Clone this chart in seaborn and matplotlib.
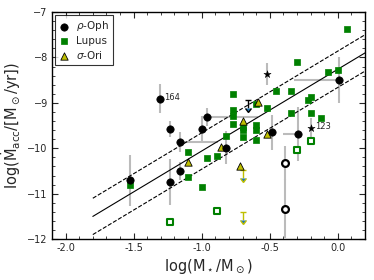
import numpy as np
import matplotlib
matplotlib.use('Agg')
import matplotlib.pyplot as plt
import seaborn as sns
from matplotlib.ticker import MultipleLocator, FormatStrFormatter

# rho-Oph, accreting (filled circles)
oph_logm = [-1.53, -1.31, -1.23, -1.16, -1.00, -0.96, -0.82, -1.16, -1.23, -0.48, -0.29, 0.01]
oph_logmacc = [-10.70, -8.91, -9.57, -9.86, -9.58, -9.31, -9.99, -10.50, -10.74, -9.65, -9.69, -8.50]
oph_yerr = [0.56, 0.32, 0.18, 0.22, 0.28, 0.20, 0.36, 0.20, 0.50, 0.39, 0.60, 0.51]
oph_xerr_lo = [0, 0, 0, 0, 0, 0.04, 0, 0, 0, 0, 0.11, 0.33]
oph_xerr_hi = [0, 0, 0, 0.28, 0, 0.37, 0, 0, 0, 0, 0, 0]

# rho-Oph, open circles
oph_open_logm = [-0.39, -0.39]
oph_open_logmacc = [-10.33, -11.33]
oph_open_yerr = [0.37, 0.65]

# stars
star_logm = [-0.52, -0.20]
star_logmacc = [-8.37, -9.56]
star_yerr = [0.24, 0.22]
star_names = ['', '123']

# upper limits
oph_ul_logm = [-0.66]
oph_ul_logmacc = [-8.94]
ori_ul_logm = [-0.70, -0.70]
ori_ul_logmacc = [-10.48, -11.40]

# Lupus
lup_logm = [-1.53, -1.10, -1.10, -1.00, -0.96, -0.89, -0.82, -0.77, -0.77, -0.77,
            -0.77, -0.70, -0.70, -0.70, -0.60, -0.60, -0.60, -0.60, -0.52, -0.455,
            -0.345, -0.345, -0.30, -0.22, -0.20, -0.20, -0.12, -0.07, 0.005, 0.07]
lup_logmacc = [-10.80, -10.08, -10.63, -10.86, -10.22, -10.17, -9.72, -8.81, -9.16, -9.29,
               -9.47, -9.53, -9.60, -9.75, -9.03, -9.48, -9.60, -9.82, -9.11, -8.73,
               -8.73, -9.23, -8.09, -8.94, -8.87, -9.23, -9.33, -8.32, -8.28, -7.37]
lup_open_logm = [-1.23, -0.89, -0.30, -0.20]
lup_open_logmacc = [-11.63, -11.38, -10.04, -9.84]

# sigma-Ori
ori_logm = [-1.10, -0.855, -0.70, -0.59, -0.52, -0.72]
ori_logmacc = [-10.30, -9.98, -9.41, -8.98, -9.69, -10.40]

# fit
fit_slope = 1.8
fit_icpt = -8.26
fit_scatter = 0.4
fit_x = np.array([-1.8, 0.2])

sns.set_style("ticks")
plt.rcParams['font.family'] = 'DejaVu Sans'
plt.rcParams['xtick.direction'] = 'in'
plt.rcParams['ytick.direction'] = 'in'
plt.rcParams['xtick.top'] = True
plt.rcParams['ytick.right'] = True

fig, ax = plt.subplots(figsize=(3.74, 2.8), dpi=100)
fig.subplots_adjust(left=0.139, right=0.976, bottom=0.146, top=0.957)

ebar = dict(fmt='none', ecolor='#bbbbbb', elinewidth=1.5, capsize=0, zorder=1)
ax.errorbar(oph_logm, oph_logmacc, yerr=oph_yerr, xerr=[oph_xerr_lo, oph_xerr_hi], **ebar)
ax.errorbar(oph_open_logm, oph_open_logmacc, yerr=oph_open_yerr, **ebar)
ax.errorbar(star_logm, star_logmacc, yerr=star_yerr, **ebar)

# upper limits
ax.errorbar(oph_ul_logm, oph_ul_logmacc, yerr=0.17, uplims=True, fmt='none',
            ecolor='k', elinewidth=1, capsize=2, zorder=2)
ax.errorbar(ori_ul_logm, ori_ul_logmacc, yerr=0.17, uplims=True, fmt='none',
            ecolor='#bfbf00', elinewidth=1, capsize=2, zorder=2)

# fit lines
fit_y = fit_slope * fit_x + fit_icpt
sns.lineplot(x=fit_x, y=fit_y, color='k', lw=0.8, ax=ax, zorder=2)
sns.lineplot(x=fit_x, y=fit_y + fit_scatter, color='k', lw=0.8, ls='--', ax=ax, zorder=2)
sns.lineplot(x=fit_x, y=fit_y - fit_scatter, color='k', lw=0.8, ls='--', ax=ax, zorder=2)

sns.scatterplot(x=oph_logm, y=oph_logmacc, marker='o', color='k', s=28, edgecolor='k',
                linewidth=0.5, label=r'$\rho$-Oph', zorder=4, ax=ax, legend=False)
sns.scatterplot(x=lup_logm, y=lup_logmacc, marker='s', color='green', s=13, edgecolor='green',
                linewidth=0.5, label='Lupus', zorder=3, ax=ax, legend=False)
sns.scatterplot(x=ori_logm, y=ori_logmacc, marker='^', color='#bfbf00', s=28, edgecolor='k',
                linewidth=0.6, label=r'$\sigma$-Ori', zorder=3, ax=ax, legend=False)
sns.scatterplot(x=oph_open_logm, y=oph_open_logmacc, marker='o', color='white', s=24,
                edgecolor='k', linewidth=1.6, zorder=4, ax=ax, legend=False)
sns.scatterplot(x=lup_open_logm, y=lup_open_logmacc, marker='s', color='white', s=18,
                edgecolor='green', linewidth=1.5, zorder=3, ax=ax, legend=False)
sns.scatterplot(x=star_logm, y=star_logmacc, marker='*', color='k', s=30, edgecolor='k',
                linewidth=0.3, zorder=4, ax=ax, legend=False)

ax.annotate('164', (oph_logm[1], oph_logmacc[1]), xytext=(3, 1), textcoords='offset points',
            fontsize=6, va='center')
ax.annotate(star_names[1], (star_logm[1], star_logmacc[1]), xytext=(3, 1), textcoords='offset points',
            fontsize=6, va='center')

ax.set_xlim(-2.1, 0.2)
ax.set_ylim(-12, -7)
ax.xaxis.set_major_locator(MultipleLocator(0.5))
ax.xaxis.set_minor_locator(MultipleLocator(0.1))
ax.yaxis.set_major_locator(MultipleLocator(1))
ax.yaxis.set_minor_locator(MultipleLocator(0.2))
ax.xaxis.set_major_formatter(FormatStrFormatter('%.1f'))
ax.tick_params(which='major', length=4, width=0.8, labelsize=7, pad=3)
ax.tick_params(which='minor', length=2, width=0.6)
for sp in ax.spines.values():
    sp.set_linewidth(1.0)
    sp.set_color('k')

ax.set_xlabel(r'log(M$_\star$/M$_\odot$)', fontsize=10.5, labelpad=3)
ax.set_ylabel(r'log($\dot{\rm M}_{\rm acc}$/[M$_\odot$/yr])', fontsize=10.5, labelpad=3)

leg = ax.legend(loc='upper left', fontsize=7.5, frameon=True, fancybox=False, edgecolor='k',
                handlelength=1.0, handletextpad=0.6, borderpad=0.4, labelspacing=0.25,
                scatterpoints=1, borderaxespad=0.3)
leg.get_frame().set_linewidth(0.8)

plt.savefig('out.png', dpi=100)
